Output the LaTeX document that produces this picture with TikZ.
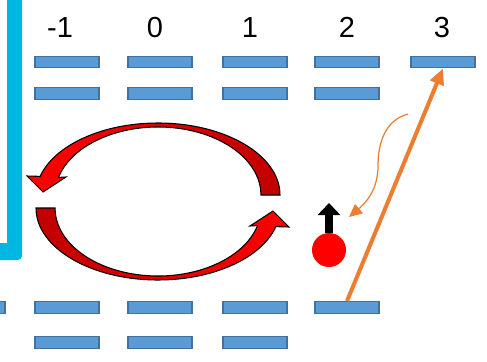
\documentclass[tikz,border=0pt]{standalone}
\usepackage{fontspec}
\setmainfont{Liberation Sans}
\usetikzlibrary{arrows.meta}
\definecolor{barfill}{RGB}{91,155,213}
\definecolor{barline}{RGB}{65,113,156}
\definecolor{pumporange}{RGB}{237,125,49}
\definecolor{framecyan}{RGB}{0,183,228}
\definecolor{darkred}{RGB}{192,0,0}
\begin{document}
\begin{tikzpicture}[x=0.2mm,y=0.2mm,
  level/.style={draw=barline, line width=0.8pt, fill=barfill, minimum width=12.8mm, minimum height=2.3mm, inner sep=0pt},
  mlabel/.style={anchor=base, font=\fontsize{16.5}{20}\selectfont},
  swirl/.style={draw=black, line width=0.6pt},
  spin/.style={draw=black, line width=4pt, -{Triangle[width=4.4mm,length=2.4mm]}},
  pump/.style={draw=pumporange, line width=2.3pt, -{Triangle[width=2.8mm,length=3.2mm]}},
  relax/.style={draw=pumporange, line width=0.7pt, -{Triangle[width=2.4mm,length=2.6mm]}}]
\clip (0,0) rectangle (487,361);
% corner of the cyan box on the left
\fill[framecyan] (-10,101) [rounded corners=0.8mm] -- (22,101) [sharp corners] -- (22,370) -- (7,370) -- (7,118) -- (-10,118) -- cycle;
% labels
\node[mlabel] (lm1) at (60,323) {-1};
\node[mlabel] (l0) at (155,323) {0};
\node[mlabel] (l1) at (250,323) {1};
\node[mlabel] (l2) at (347,323) {2};
\node[mlabel] (l3) at (442,323) {3};
% upper levels
\node[level] (upAm1) at (67,299) {};
\node[level] (upA0) at (160,299) {};
\node[level] (upA1) at (255,299) {};
\node[level] (upA2) at (347,299) {};
\node[level] (upA3) at (443,299) {};
\node[level] (upBm1) at (67,267.5) {};
\node[level] (upB0) at (160,267.5) {};
\node[level] (upB1) at (255,267.5) {};
\node[level] (upB2) at (347,267.5) {};
% lower levels
\node[level] (loAm2) at (-27,53.5) {};
\node[level] (loAm1) at (67,53.5) {};
\node[level] (loA0) at (160,53.5) {};
\node[level] (loA1) at (255,53.5) {};
\node[level] (loA2) at (347,53.5) {};
\node[level] (loBm1) at (67,18.5) {};
\node[level] (loB0) at (160,18.5) {};
\node[level] (loB1) at (255,18.5) {};
% the two curved arrows
\draw[swirl, left color=red, right color=darkred] (280,166) arc[start angle=0,end angle=165,x radius=122,y radius=72] -- (27,185) -- (43,169) -- (66,184) -- (58.5,183.6) arc[start angle=165,end angle=0,x radius=103,y radius=68] -- cycle;
\draw[swirl, left color=darkred, right color=red] (36,153) arc[start angle=180,end angle=345,x radius=122,y radius=72] -- (289,134) -- (273,150) -- (250,135) -- (257.5,135.4) arc[start angle=345,end angle=180,x radius=103,y radius=68] -- cycle;
% electron with spin
\node[circle, fill=red, minimum size=6.8mm, inner sep=0pt] (el) at (329,111) {};
\coordinate (spintip) at (329,158);
\draw[spin] (el.north) -- (spintip);
% excitation and relaxation
\draw[pump] (loA2.north) -- (upA3.south);
\coordinate (relaxstart) at (408,247);
\coordinate (relaxend) at (349,144);
\draw[relax] (relaxstart) to[out=195,in=90] (378,195) to[out=-90,in=40] (relaxend);
\end{tikzpicture}
\end{document}
